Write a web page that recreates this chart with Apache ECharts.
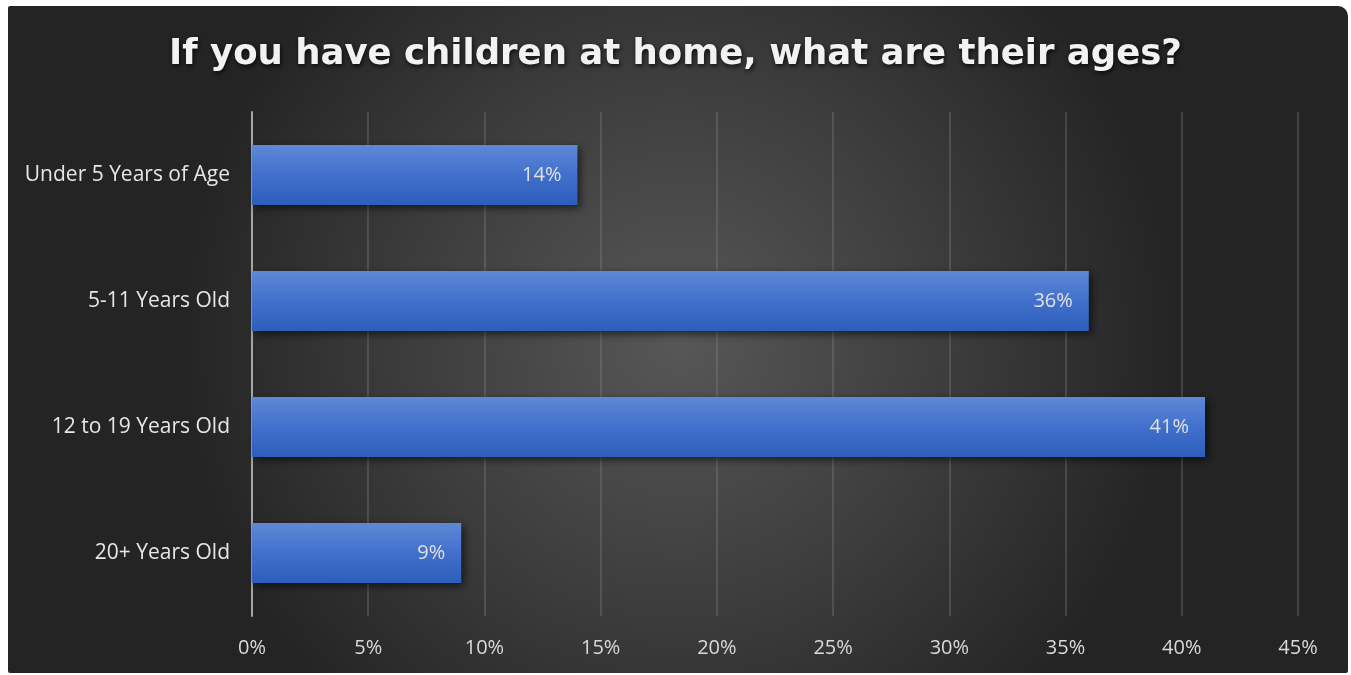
<!DOCTYPE html>
<html><head><meta charset="utf-8">
<script src="https://cdn.jsdelivr.net/npm/echarts@6/dist/echarts.min.js"></script>
<style>html,body{margin:0;padding:0;background:#fff}#c{width:1351px;height:675px}</style>
</head><body><div id="c"></div>
<script>
const titleText = 'If you have children at home, what are their ages?';
const categories = ['Under 5 Years of Age', '5-11 Years Old', '12 to 19 Years Old', '20+ Years Old'];
const values = [14, 36, 41, 9];
const tickMax = 45;
const tickStep = 5;

const chart = echarts.init(document.getElementById('c'));
chart.setOption({
  animation: false,
  backgroundColor: '#ffffff',
  graphic: [{
    type: 'rect', z: -10, silent: true,
    shape: { x: 8, y: 6, width: 1340, height: 667, r: [2, 10, 2, 2] },
    style: {
      fill: new echarts.graphic.RadialGradient(0.5, 0.5, 0.75, [
        { offset: 0, color: '#575757' },
        { offset: 0.55, color: '#3c3c3c' },
        { offset: 1, color: '#242424' }
      ])
    }
  }],
  title: {
    text: titleText,
    left: 'center', top: 32,
    textStyle: {
      fontFamily: 'DejaVu Sans', fontWeight: 'bold', fontSize: 35.5, color: '#f2f2f2',
      textShadowColor: 'rgba(0,0,0,0.8)', textShadowBlur: 5, textShadowOffsetX: 1, textShadowOffsetY: 2
    }
  },
  grid: { left: 252, right: 53, top: 112, bottom: 59, containLabel: false },
  xAxis: {
    type: 'value', min: 0, max: tickMax, interval: tickStep,
    axisLine: { show: false }, axisTick: { show: false },
    axisLabel: { formatter: v => v + '%', color: '#d9d9d9', fontFamily: 'Open Sans', fontSize: 20, margin: 22 },
    splitLine: { show: true, lineStyle: { color: 'rgba(140,140,140,0.3)', width: 2 } }
  },
  yAxis: {
    type: 'category', data: categories, inverse: true,
    axisLine: { show: true, lineStyle: { color: '#a6a6a6', width: 2 } },
    axisTick: { show: false },
    axisLabel: { color: '#e6e6e6', fontFamily: 'Open Sans', fontSize: 21, margin: 22 }
  },
  series: [{
    type: 'bar', data: values, barWidth: 60,
    itemStyle: {
      color: new echarts.graphic.LinearGradient(0, 0, 0, 1, [
        { offset: 0, color: '#5f88d6' },
        { offset: 0.5, color: '#4170cc' },
        { offset: 1, color: '#2d5ebb' }
      ]),
      shadowColor: 'rgba(0,0,0,0.6)', shadowBlur: 8, shadowOffsetX: 3, shadowOffsetY: 3
    },
    label: {
      show: true, position: 'insideRight', distance: 16,
      formatter: p => p.value + '%', color: '#e0e0e0', fontFamily: 'Open Sans', fontSize: 20
    }
  }]
});
</script></body></html>
